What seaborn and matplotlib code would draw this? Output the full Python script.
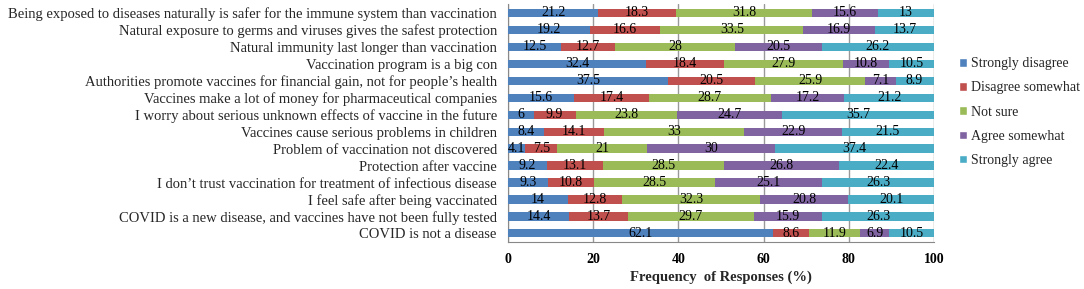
import matplotlib
matplotlib.use('Agg')
import matplotlib.pyplot as plt
from matplotlib.patches import Patch
import numpy as np
import pandas as pd
import seaborn as sns

statements = [
    'Being exposed to diseases naturally is safer for the immune system than vaccination',
    'Natural exposure to germs and viruses gives the safest protection',
    'Natural immunity last longer than vaccination',
    'Vaccination program is a big con',
    "Authorities promote vaccines for financial gain, not for people\u2019s health",
    'Vaccines make a lot of money for pharmaceutical companies',
    'I worry about serious unknown effects of vaccine in the future',
    'Vaccines cause serious problems in children',
    'Problem of vaccination not discovered',
    'Protection after vaccine',
    "I don\u2019t trust vaccination for treatment of infectious disease",
    'I feel safe after being vaccinated',
    'COVID is a new disease, and vaccines have not been fully tested',
    'COVID is not a disease',
]
responses = ['Strongly disagree', 'Disagree somewhat', 'Not sure', 'Agree somewhat', 'Strongly agree']

strongly_disagree = [21.2, 19.2, 12.5, 32.4, 37.5, 15.6, 6, 8.4, 4.1, 9.2, 9.3, 14, 14.4, 62.1]
disagree_somewhat = [18.3, 16.6, 12.7, 18.4, 20.5, 17.4, 9.9, 14.1, 7.5, 13.1, 10.8, 12.8, 13.7, 8.6]
not_sure = [31.8, 33.5, 28, 27.9, 25.9, 28.7, 23.8, 33, 21, 28.5, 28.5, 32.3, 29.7, 11.9]
agree_somewhat = [15.6, 16.9, 20.5, 10.8, 7.1, 17.2, 24.7, 22.9, 30, 26.8, 25.1, 20.8, 15.9, 6.9]
strongly_agree = [13, 13.7, 26.2, 10.5, 8.9, 21.2, 35.7, 21.5, 37.4, 22.4, 26.3, 20.1, 26.3, 10.5]

colors = ['#4F81BD', '#C0504D', '#9BBB59', '#8064A2', '#4BACC6']

df = pd.DataFrame({
    'Strongly disagree': strongly_disagree,
    'Disagree somewhat': disagree_somewhat,
    'Not sure': not_sure,
    'Agree somewhat': agree_somewhat,
    'Strongly agree': strongly_agree,
}, index=statements)
cum = df.cumsum(axis=1)

sns.set_style('white')
plt.rcParams['font.family'] = ['Liberation Serif', 'DejaVu Serif']

fig = plt.figure(figsize=(10.84, 2.89), dpi=100)
ax = fig.add_axes([0.4686, 0.163, 0.393, 0.822])

# stacked bars: overplot cumulative sums, widest first
for resp, col in reversed(list(zip(responses, colors))):
    sns.barplot(x=cum[resp].values, y=statements, color=col, orient='h',
                width=0.48, ax=ax, zorder=3, saturation=1, edgecolor='none')

# segment value labels
for i, stmt in enumerate(statements):
    left = 0
    for resp in responses:
        v = df.loc[stmt, resp]
        ax.text(left + v / 2, i, f'{v:g}', ha='center', va='center',
                fontsize=10, color='black', zorder=5)
        left += v

ax.set_xlim(0, 100)
ax.set_ylim(len(statements) - 0.5, -0.5)
ax.set_xticks([0, 20, 40, 60, 80, 100])
ax.tick_params(axis='x', labelsize=10, length=4, direction='inout', colors='#555555',
               labelcolor='black', pad=6)
for lbl in ax.get_xticklabels():
    lbl.set_fontweight('bold')
ax.tick_params(axis='y', which='major', length=0, labelsize=10.5, pad=8)
ax.set_yticks(np.arange(len(statements) + 1) - 0.5, minor=True)
ax.tick_params(axis='y', which='minor', length=3, colors='#888888')
ax.grid(axis='x', color='#999999', linewidth=1, zorder=0)
ax.set_axisbelow(True)
for s in ['top', 'right']:
    ax.spines[s].set_visible(False)
for s in ['left', 'bottom']:
    ax.spines[s].set_color('#888888')
ax.set_ylabel('')
ax.set_xlabel('Frequency  of Responses (%)', fontsize=10.5, fontweight='bold', labelpad=3)

handles = [Patch(facecolor=c, label=r) for r, c in zip(responses, colors)]
fig.legend(handles=handles, loc='upper left', bbox_to_anchor=(0.8735, 0.845),
           frameon=False, fontsize=10, handlelength=0.55, handleheight=0.55,
           handletextpad=0.3, labelspacing=0.8)

fig.savefig('out.png', dpi=100)
